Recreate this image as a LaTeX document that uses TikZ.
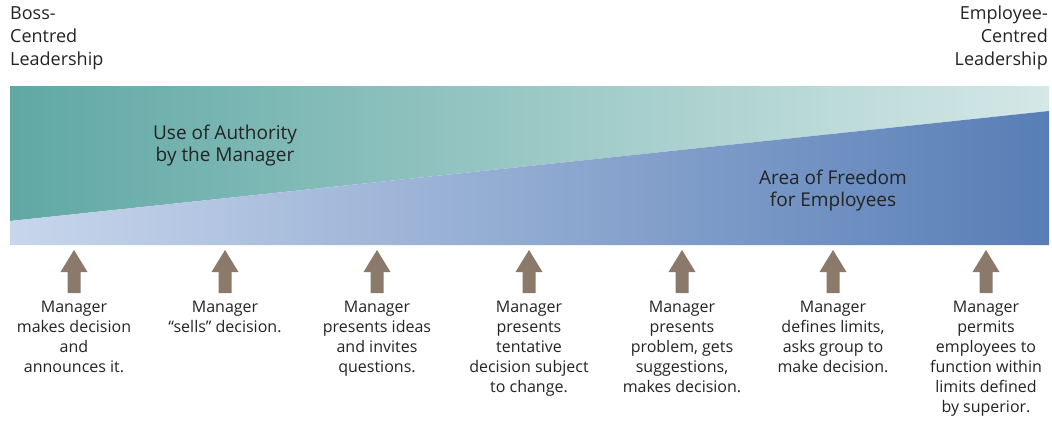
\documentclass[tikz,border=0pt]{standalone}
\usepackage{fontspec}
\setmainfont{Open Sans}
\definecolor{tealL}{RGB}{96,168,164}
\definecolor{tealR}{RGB}{212,232,231}
\definecolor{blueL}{RGB}{200,214,236}
\definecolor{blueR}{RGB}{88,126,182}
\definecolor{arrowbrown}{RGB}{139,122,106}
\definecolor{txt}{RGB}{35,35,35}
\tikzset{
  lbl/.style={align=center, font=\fontsize{16}{20}\selectfont, text=txt, inner sep=0pt, anchor=north},
  corner/.style={font=\fontsize{18}{23}\selectfont, text=txt, inner sep=0pt, anchor=north},
  bandtxt/.style={align=center, font=\fontsize{19}{22}\selectfont, text=txt, inner sep=0pt},
  uparrow/.style={fill=arrowbrown, draw=none}
}
\begin{document}
\begin{tikzpicture}[x=1pt,y=-1pt]
\useasboundingbox (0,0) rectangle (1052,424);
% band
\shade[left color=tealL, right color=tealR] (10,86) -- (1049,86) -- (1049,111) -- (10,221) -- cycle;
\shade[left color=blueL, right color=blueR] (10,221) -- (1049,111) -- (1049,245) -- (10,245) -- cycle;
% corner labels
\node[corner, align=left, anchor=north west] (boss) at (10,6) {Boss-\\Centred\\Leadership};
\node[corner, align=right, anchor=north east] (emp) at (1048,6) {Employee-\\Centred\\Leadership};
% band labels
\node[bandtxt] (auth) at (225,146) {Use of Authority\\by the Manager};
\node[bandtxt] (free) at (833,191) {Area of Freedom\\for Employees};
% arrows
\foreach \x/\n in {74/a1,225/a2,377/a3,529/a4,682/a5,833/a6,986/a7}{
  \fill[uparrow] (\x-6.5,293) -- (\x-6.5,272) -- (\x-13.5,272) -- (\x,250) -- (\x+13.5,272) -- (\x+6.5,272) -- (\x+6.5,293) -- cycle;
  \coordinate (\n) at (\x,301);
}
% bottom labels
\node[lbl] (t1) at (a1) {Manager\\makes decision\\and\\announces it.};
\node[lbl] (t2) at (a2) {Manager\\“sells” decision.};
\node[lbl] (t3) at (a3) {Manager\\presents ideas\\and invites\\questions.};
\node[lbl] (t4) at (a4) {Manager\\presents\\tentative\\decision subject\\to change.};
\node[lbl] (t5) at (a5) {Manager\\presents\\problem, gets\\suggestions,\\makes decision.};
\node[lbl] (t6) at (a6) {Manager\\defines limits,\\asks group to\\make decision.};
\node[lbl] (t7) at (a7) {Manager\\permits\\employees to\\function within\\limits defined\\by superior.};
\end{tikzpicture}
\end{document}
